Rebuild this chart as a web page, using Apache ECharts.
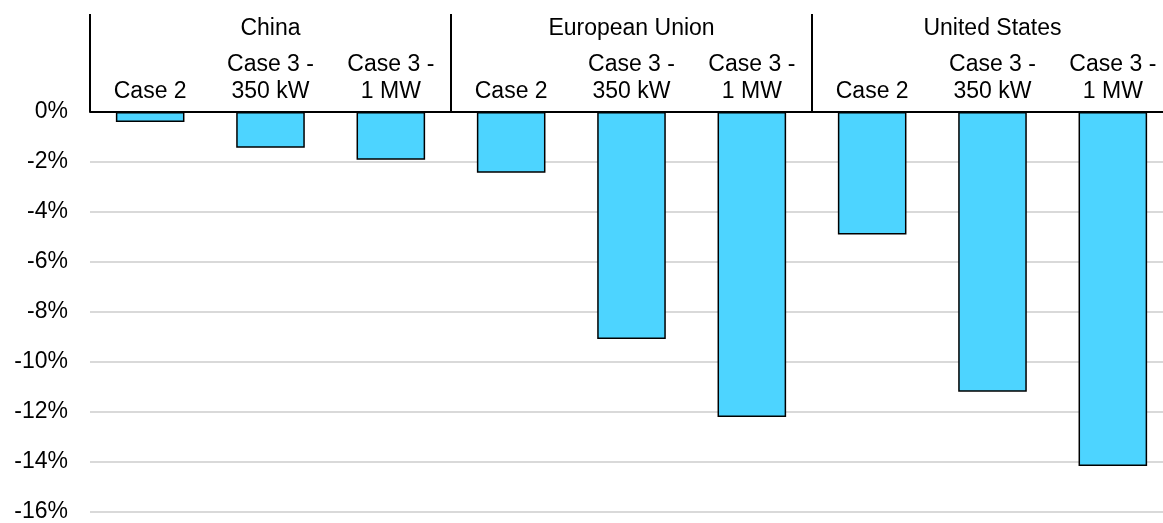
<!DOCTYPE html>
<html><head><meta charset="utf-8">
<script src="https://cdn.jsdelivr.net/npm/echarts@6/dist/echarts.min.js"></script>
<style>html,body{margin:0;padding:0;background:#fff;overflow:hidden;width:1163px;height:523px}#c{width:1173px;height:523px}</style>
</head><body><div id="c"></div>
<script>
const regions = ['China', 'European Union', 'United States'];
const cases = ['Case 2', 'Case 3 -\n350 kW', 'Case 3 -\n1 MW',
               'Case 2', 'Case 3 -\n350 kW', 'Case 3 -\n1 MW',
               'Case 2', 'Case 3 -\n350 kW', 'Case 3 -\n1 MW'];
const values = [-0.4, -1.43, -1.91, -2.43, -9.09, -12.22, -4.91, -11.2, -14.18];
const yTicks = { min: -16, max: 0, interval: 2 };

const font = 'Liberation Sans, Arial, sans-serif';
const chart = echarts.init(document.getElementById('c'), null, { renderer: 'canvas' });
chart.setOption({
  animation: false,
  grid: { left: 90, right: 0, top: 112, bottom: 8, containLabel: false },
  xAxis: [
    {
      type: 'category', position: 'top', data: cases,
      axisLine: { show: true, lineStyle: { color: '#000', width: 2 } },
      axisTick: { show: false },
      axisLabel: { color: '#000', fontSize: 23, fontFamily: font, margin: 7, lineHeight: 27, interval: 0 },
      splitLine: { show: false }
    },
    {
      type: 'category', position: 'top', data: regions,
      axisLine: { show: false },
      axisTick: { show: true, length: 98, lineStyle: { color: '#000', width: 2 } },
      axisLabel: { color: '#000', fontSize: 23, fontFamily: font, margin: 72, interval: 0 },
      splitLine: { show: false }
    }
  ],
  yAxis: {
    type: 'value', min: yTicks.min, max: yTicks.max, interval: yTicks.interval,
    axisLine: { show: false }, axisTick: { show: false },
    axisLabel: { color: '#000', fontSize: 23, fontFamily: font, margin: 22, formatter: '{value}%' },
    splitLine: { show: true, lineStyle: { color: '#d9d9d9', width: 2 } }
  },
  series: [{
    type: 'bar', xAxisIndex: 0, data: values, barWidth: '57%',
    itemStyle: { color: '#4dd4ff', borderColor: '#000', borderWidth: 1.5 }
  }]
});
</script></body></html>
